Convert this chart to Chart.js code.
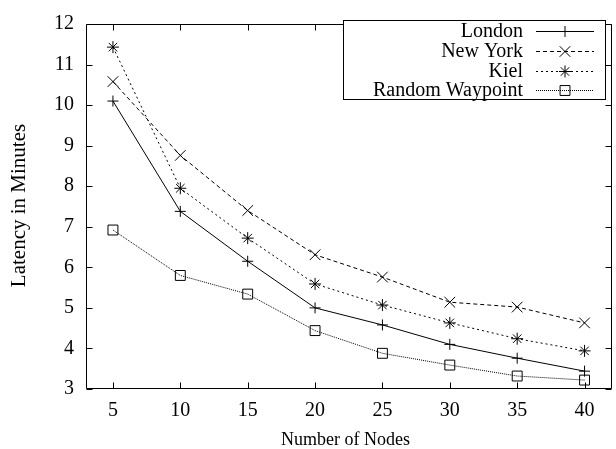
<!DOCTYPE html>
<html>
<head>
<meta charset="utf-8">
<script src="https://cdn.jsdelivr.net/npm/chart.js@4.4.0/dist/chart.umd.min.js"></script>
<style>
  html, body { margin: 0; padding: 0; background: #fff; overflow: hidden; }
  #wrap { width: 620px; height: 449px; }
</style>
</head>
<body>
<div id="wrap"><canvas id="latencyChart" width="620" height="449"></canvas></div>
<script>
// Number of nodes on the x axis, and the tick values
const nodes = [5, 10, 15, 20, 25, 30, 35, 40];
const xTicks = [5, 10, 15, 20, 25, 30, 35, 40];
const yTicks = [3, 4, 5, 6, 7, 8, 9, 10, 11, 12];

// Latency in minutes for each movement model
const london = [10.1, 7.38, 6.15, 5.0, 4.58, 4.1, 3.76, 3.44];
const newYork = [10.58, 8.76, 7.4, 6.31, 5.76, 5.14, 5.02, 4.63];
const kiel = [11.43, 7.95, 6.72, 5.59, 5.07, 4.63, 4.24, 3.94];
const randomWaypoint = [6.92, 5.8, 5.34, 4.44, 3.88, 3.59, 3.32, 3.22];

const serif = '"Liberation Serif", "Times New Roman", serif';

function points(values) {
  return nodes.map((n, i) => ({ x: n, y: values[i] }));
}

function series(label, values, dash, style, radius) {
  return {
    label: label,
    data: points(values),
    borderColor: '#000',
    backgroundColor: 'rgba(0,0,0,0)',
    borderWidth: 1,
    borderDash: dash,
    pointStyle: style,
    pointRadius: radius,
    pointBorderWidth: 1,
    pointBorderColor: '#000',
    pointBackgroundColor: 'rgba(0,0,0,0)',
    tension: 0
  };
}

// Border, inward tick marks (gnuplot style) and axis titles
const frame = {
  id: 'frame',
  beforeDatasetsDraw(chart) {
    const { ctx, chartArea: a, scales } = chart;
    const l = Math.round(a.left) + 0.5, r = Math.round(a.right) - 0.5;
    const t = Math.round(a.top) + 0.5, b = Math.round(a.bottom) - 0.5;
    ctx.save();
    ctx.strokeStyle = '#000';
    ctx.lineWidth = 1;
    ctx.beginPath();
    ctx.rect(l, t, r - l, b - t);
    xTicks.forEach(v => {
      const px = Math.round(scales.x.getPixelForValue(v)) + 0.5;
      ctx.moveTo(px, b); ctx.lineTo(px, b - 6);
      ctx.moveTo(px, t); ctx.lineTo(px, t + 6);
    });
    yTicks.forEach(v => {
      const py = Math.round(scales.y.getPixelForValue(v)) + 0.5;
      ctx.moveTo(l, py); ctx.lineTo(l + 6, py);
      ctx.moveTo(r, py); ctx.lineTo(r - 6, py);
    });
    ctx.stroke();
    ctx.restore();
  },
  afterDraw(chart) {
    const { ctx } = chart;
    ctx.save();
    ctx.fillStyle = '#000';
    ctx.textAlign = 'center';
    ctx.textBaseline = 'alphabetic';
    ctx.font = '18px ' + serif;
    ctx.fillText('Number of Nodes', 345.5, 445);
    ctx.translate(25, 205.5);
    ctx.rotate(-Math.PI / 2);
    ctx.font = '21px ' + serif;
    ctx.fillText('Latency in Minutes', 0, 0);
    ctx.restore();
  }
};

// Legend box in the top right corner: label, then line sample with marker
const keyBox = {
  id: 'keyBox',
  afterDraw(chart) {
    const { ctx } = chart;
    const box = { left: 343.5, top: 20.5, right: 605.5, bottom: 99.5 };
    ctx.save();
    ctx.fillStyle = '#fff';
    ctx.fillRect(box.left, box.top, box.right - box.left, box.bottom - box.top);
    ctx.strokeStyle = '#000';
    ctx.lineWidth = 1;
    ctx.strokeRect(box.left, box.top, box.right - box.left, box.bottom - box.top);

    chart.data.datasets.forEach((ds, i) => {
      const cy = 31 + i * 19.8;
      ctx.fillStyle = '#000';
      ctx.font = '20px ' + serif;
      ctx.textAlign = 'right';
      ctx.textBaseline = 'alphabetic';
      ctx.fillText(ds.label, 523, cy + 6);

      ctx.beginPath();
      ctx.setLineDash(ds.borderDash);
      ctx.moveTo(536, Math.round(cy) + 0.5);
      ctx.lineTo(594, Math.round(cy) + 0.5);
      ctx.stroke();
      ctx.setLineDash([]);

      ctx.fillStyle = 'rgba(0,0,0,0)';
      Chart.helpers.drawPoint(ctx, {
        pointStyle: ds.pointStyle,
        radius: ds.pointRadius,
        borderWidth: 1,
        rotation: 0
      }, 565, Math.round(cy) + 0.5);
    });
    ctx.restore();
  }
};

const ctx = document.getElementById('latencyChart').getContext('2d');
const latencyChart = new Chart(ctx, {
  type: 'line',
  data: {
    datasets: [
      series('London', london, [], 'cross', 5.5),
      series('New York', newYork, [4, 3], 'crossRot', 7.5),
      series('Kiel', kiel, [2, 3], 'star', 6),
      series('Random Waypoint', randomWaypoint, [1, 1], 'rect', 7)
    ]
  },
  options: {
    responsive: false,
    animation: false,
    layout: { padding: { top: 14, right: 2, bottom: 0, left: 0 } },
    plugins: {
      legend: { display: false },
      tooltip: { enabled: false }
    },
    scales: {
      x: {
        type: 'linear',
        min: 3,
        max: 42,
        afterBuildTicks: scale => { scale.ticks = xTicks.map(v => ({ value: v })); },
        afterFit: scale => { scale.height = 60; },
        grid: { display: false, drawTicks: false },
        border: { display: false },
        ticks: { color: '#000', padding: 10, maxRotation: 0, font: { family: serif, size: 20 } }
      },
      y: {
        type: 'linear',
        min: 3,
        max: 12,
        afterBuildTicks: scale => { scale.ticks = yTicks.map(v => ({ value: v })); },
        afterFit: scale => { scale.width = 86; },
        grid: { display: false, drawTicks: false },
        border: { display: false },
        ticks: { color: '#000', padding: 12, font: { family: serif, size: 20 } }
      }
    }
  },
  plugins: [frame, keyBox]
});
</script>
</body>
</html>
